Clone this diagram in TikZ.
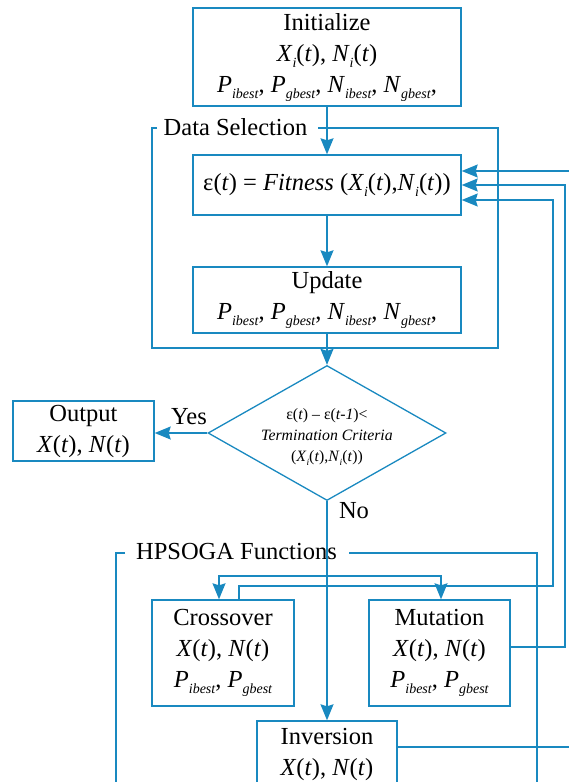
\documentclass[tikz,border=0pt]{standalone}
\usepackage{fontspec}
\setmainfont{Liberation Serif}
\usetikzlibrary{shapes.geometric,arrows.meta,calc}
\definecolor{flow}{RGB}{25,137,192}
% lowered italic subscript
\newcommand\sbx[1]{\raisebox{-6pt}{\fontsize{14}{14}\selectfont\itshape #1}}
\newcommand\sbs[1]{\raisebox{-4pt}{\fontsize{9.5}{9.5}\selectfont\itshape #1}}
\newcommand\iv[1]{\textit{#1}}
\begin{document}
\begin{tikzpicture}[x=1pt,y=-1pt,
  box/.style={draw=flow, line width=1.4pt, inner sep=0pt, align=center,
    font=\fontsize{24.5}{31}\selectfont},
  lbl/.style={inner sep=0pt, font=\fontsize{24.5}{31}\selectfont},
  wire/.style={draw=flow, line width=1.4pt},
  tip/.tip={Stealth[length=16pt,width=13pt,inset=2pt]},
  arr/.style={wire, -tip},
  frame/.style={draw=flow, line width=1.3pt}]
\useasboundingbox (0,0) rectangle (569,782);

% main column
\node[box, minimum width=268pt, minimum height=98pt] (init) at (327,57)
  {Initialize\\ \iv{X}\sbx{i}(\iv{t}), \iv{N}\sbx{i}(\iv{t})\\
   \iv{P}\sbx{ibest}, \iv{P}\sbx{gbest}, \iv{N}\sbx{ibest}, \iv{N}\sbx{gbest},};
\node[box, minimum width=268pt, minimum height=60pt] (fit) at (327,185)
  {ε(\iv{t}) = \iv{Fitness} (\iv{X}\sbx{i}(\iv{t}),\iv{N}\sbx{i}(\iv{t}))};
\node[box, minimum width=268pt, minimum height=66pt] (upd) at (327,300)
  {Update\\ \iv{P}\sbx{ibest}, \iv{P}\sbx{gbest}, \iv{N}\sbx{ibest}, \iv{N}\sbx{gbest},};

% decision
\node[draw=flow, line width=1.3pt, diamond, minimum width=238pt,
  minimum height=135pt, inner sep=0pt] (dia) at (327,433) {};
\node[align=center, inner sep=0pt, font=\fontsize{15.8}{21}\selectfont] (dtxt) at (327,437)
  {ε(\iv{t}) – ε(\iv{t-1})<\\ \iv{Termination Criteria}\\
   (\iv{X}\sbs{i}(\iv{t}),\iv{N}\sbs{i}(\iv{t}))};

\node[box, minimum width=141pt, minimum height=60pt] (out) at (83.5,431)
  {Output\\ \iv{X}(\iv{t}), \iv{N}(\iv{t})};
\node[lbl] (yes) at (189,417) {Yes};
\node[lbl] (no) at (354,511) {No};

% operators
\node[box, minimum width=142pt, minimum height=106pt] (cro) at (223,653)
  {Crossover\\ \iv{X}(\iv{t}), \iv{N}(\iv{t})\\ \iv{P}\sbx{ibest}, \iv{P}\sbx{gbest}};
\node[box, minimum width=141pt, minimum height=106pt] (mut) at (439.5,653)
  {Mutation\\ \iv{X}(\iv{t}), \iv{N}(\iv{t})\\ \iv{P}\sbx{ibest}, \iv{P}\sbx{gbest}};
\node[box, minimum width=140pt, minimum height=66pt] (inv) at (327,754)
  {Inversion\\ \iv{X}(\iv{t}), \iv{N}(\iv{t})};

% group frames
\node[lbl] (dsel) at (235.5,127) {Data Selection};
\draw[frame] (157,128) -- (152,128) -- (152,348) -- (498,348) -- (498,128) -- (318,128);
\node[lbl] (hfun) at (236.5,552) {HPSOGA Functions};
\draw[frame] (125,553) -- (116,553) -- (116,800);
\draw[frame] (349,553) -- (537,553) -- (537,800);

% main flow
\draw[arr] (init.south) -- (fit.north);
\draw[arr] (fit.south) -- (upd.north);
\draw[arr] (upd.south) -- (dia.north);
\draw[arr] (dia.west) -- (out.east |- dia.west);
\draw[arr] (dia.south) -- (inv.north);

% split into crossover and mutation
\coordinate (sL) at (219,576);
\coordinate (sR) at (441,576);
\draw[wire, tip-tip] (sL |- cro.north) -- (sL) -- (sR) -- (sR |- mut.north);

% feedback to fitness
\coordinate (cA) at (239,586);
\coordinate (cB) at (553,586);
\draw[arr] (cA |- cro.north) -- (cA) -- (cB) -- (cB |- 0,200) -- (fit.east |- 0,200);
\coordinate (mA) at (565,647);
\draw[arr] (mut.east |- mA) -- (mA) -- (mA |- 0,185) -- (fit.east |- 0,185);
\coordinate (iA) at (585,747);
\draw[arr] (inv.east |- iA) -- (iA) -- (iA |- 0,171) -- (fit.east |- 0,171);
\end{tikzpicture}
\end{document}
